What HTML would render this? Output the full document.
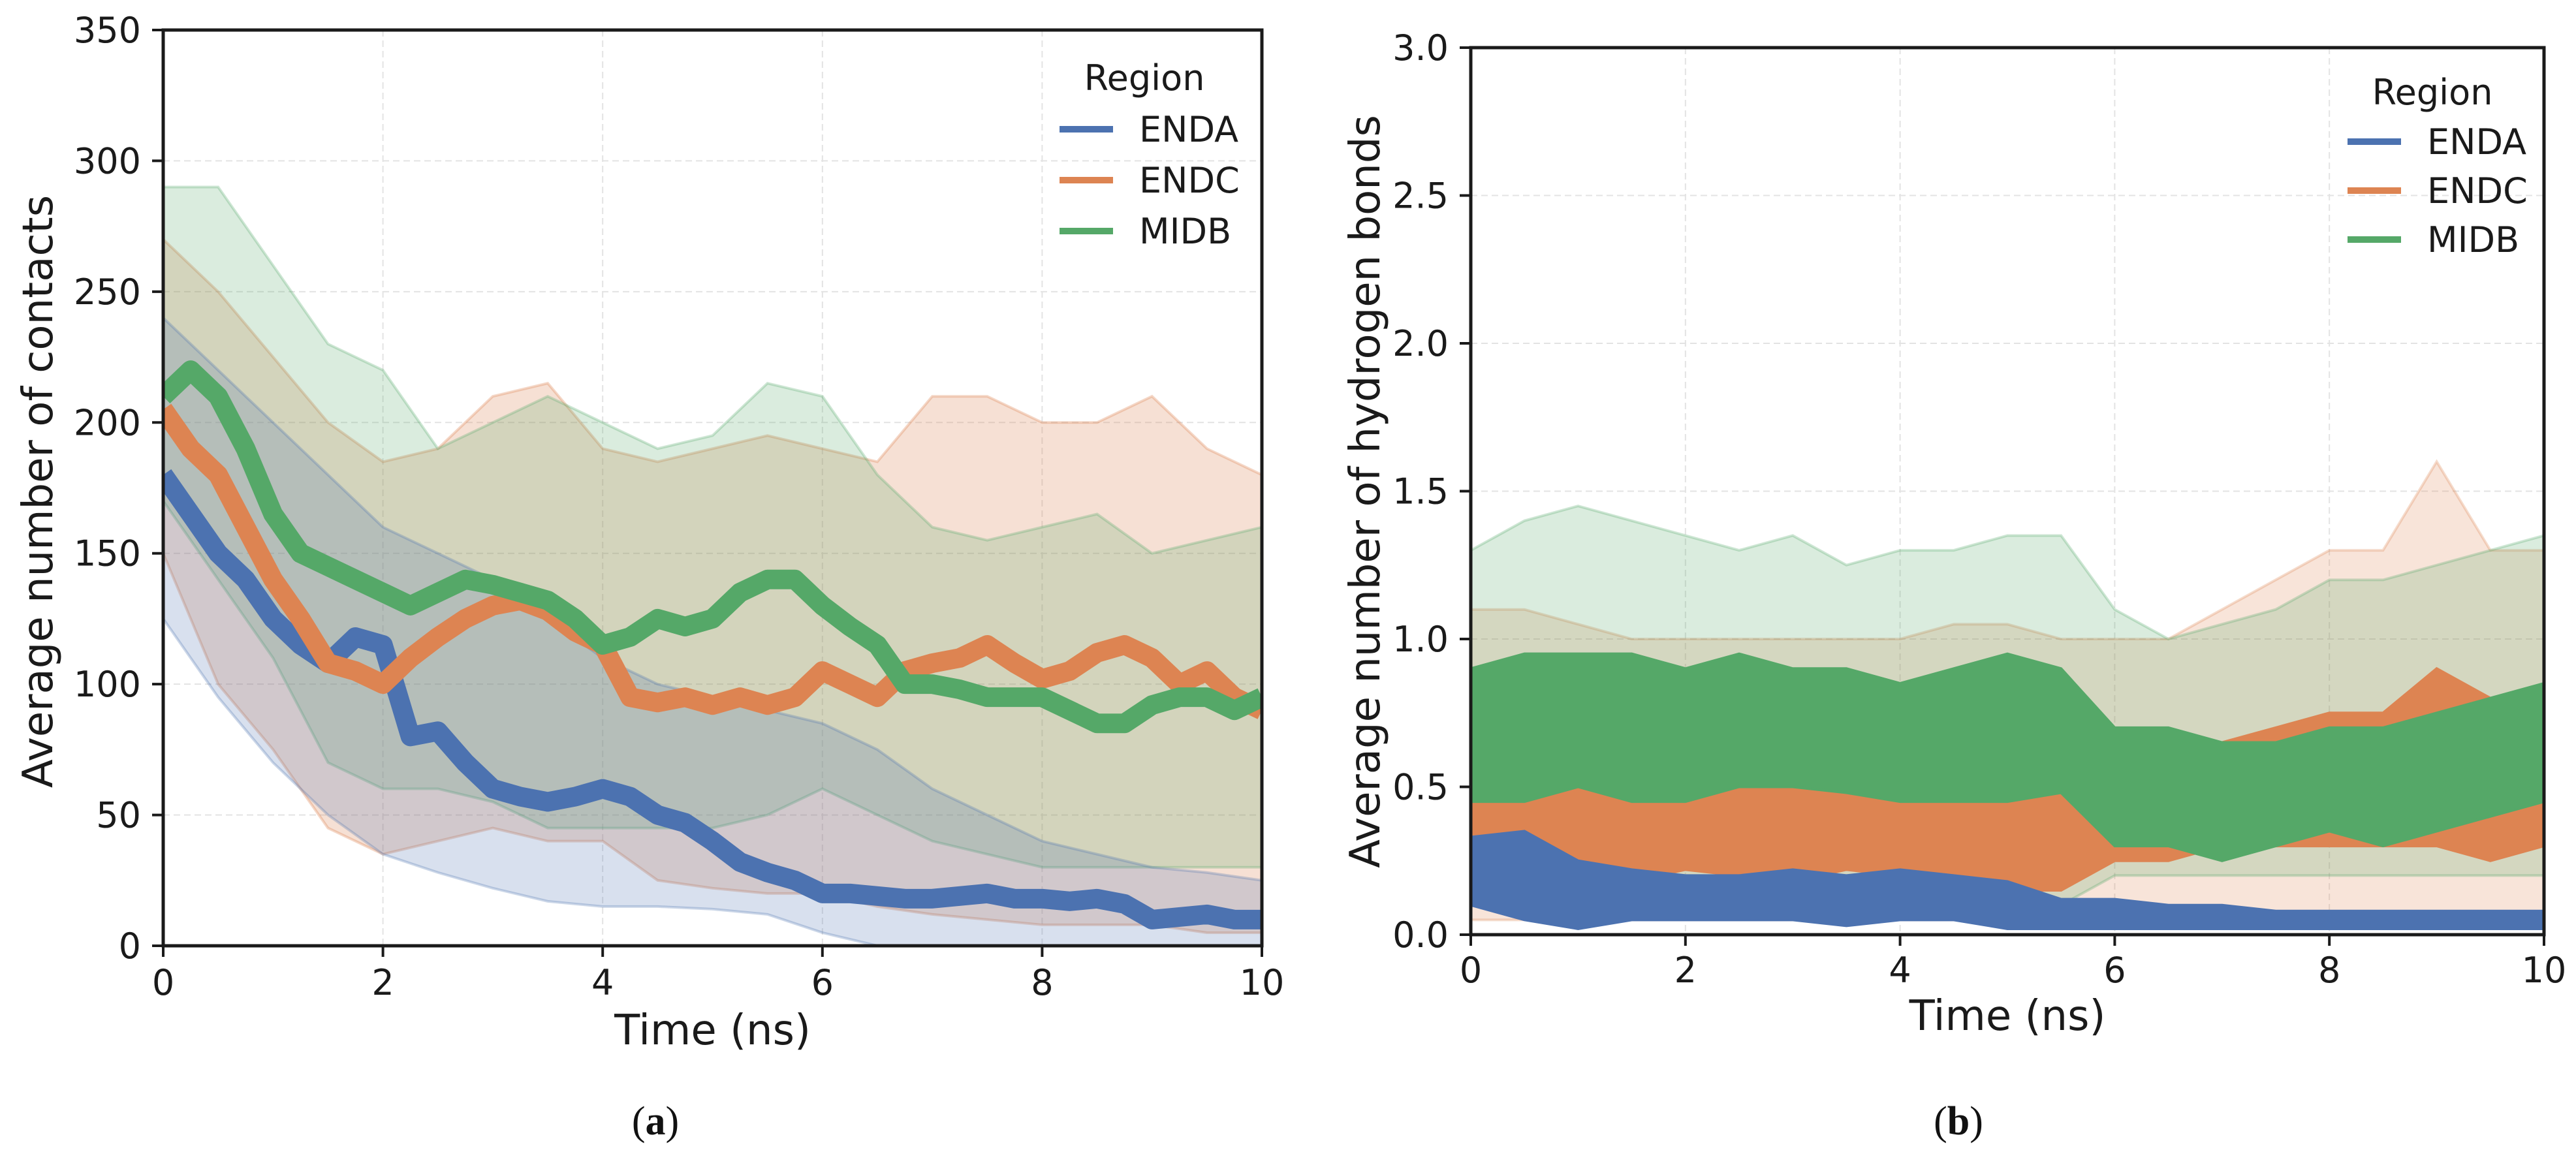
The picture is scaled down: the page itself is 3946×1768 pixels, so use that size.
<!DOCTYPE html>
<html><head><meta charset="utf-8"><style>
html,body{margin:0;padding:0;background:#fff;width:3946px;height:1768px;overflow:hidden}
svg{display:block;font-family:"DejaVu Sans","Liberation Sans",sans-serif}
.cap{font-family:"Liberation Serif",serif}
</style></head><body>
<svg id="fig" width="3946" height="1768" viewBox="0 0 3946 1768" xmlns="http://www.w3.org/2000/svg"></svg>
<script>
// ---------- Panel (a) data ----------
const aTimes = [0,0.25,0.5,0.75,1,1.25,1.5,1.75,2,2.25,2.5,2.75,3,3.25,3.5,3.75,4,4.25,4.5,4.75,5,5.25,5.5,5.75,6,6.25,6.5,6.75,7,7.25,7.5,7.75,8,8.25,8.5,8.75,9,9.25,9.5,9.75,10];
const aEndaMean = [180,165,150,140,125,115,108,118,115,80,82,70,60,57,55,57,60,57,50,47,40,32,28,25,20,20,19,18,18,19,20,18,18,17,18,16,10,11,12,10,10];
const aEndcMean = [205,190,180,160,140,125,108,105,100,110,118,125,130,132,128,120,115,95,93,95,92,95,92,95,105,100,95,105,108,110,115,108,102,105,112,115,110,100,105,95,90];
const aMidbMean = [210,220,210,190,165,150,145,140,135,130,135,140,138,135,132,125,115,118,125,122,125,135,140,140,130,122,115,100,100,98,95,95,95,90,85,85,92,95,95,90,95];
const aBandTimes = [0,0.5,1,1.5,2,2.5,3,3.5,4,4.5,5,5.5,6,6.5,7,7.5,8,8.5,9,9.5,10];
const aEndaLo = [125,95,70,50,35,28,22,17,15,15,14,12,5,0,0,0,0,0,0,0,0];
const aEndaHi = [240,220,200,180,160,150,140,125,110,100,95,90,85,75,60,50,40,35,30,28,25];
const aEndcLo = [150,100,75,45,35,40,45,40,40,25,22,20,20,15,12,10,8,8,8,5,5];
const aEndcHi = [270,250,225,200,185,190,210,215,190,185,190,195,190,185,210,210,200,200,210,190,180];
const aMidbLo = [170,140,110,70,60,60,55,45,45,45,45,50,60,50,40,35,30,30,30,30,30];
const aMidbHi = [290,290,260,230,220,190,200,210,200,190,195,215,210,180,160,155,160,165,150,155,160];
const aYTicks = [0,50,100,150,200,250,300,350];
const xTicks = [0,2,4,6,8,10];
// ---------- Panel (b) data ----------
const bTimes = [0,0.5,1,1.5,2,2.5,3,3.5,4,4.5,5,5.5,6,6.5,7,7.5,8,8.5,9,9.5,10];
const bEndaLo = [0.1,0.05,0.02,0.05,0.05,0.05,0.05,0.03,0.05,0.05,0.02,0.02,0.02,0.02,0.02,0.02,0.02,0.02,0.02,0.02,0.02];
const bEndaHi = [0.33,0.35,0.25,0.22,0.2,0.2,0.22,0.2,0.22,0.2,0.18,0.12,0.12,0.1,0.1,0.08,0.08,0.08,0.08,0.08,0.08];
const bEndcLo = [0.28,0.2,0.2,0.18,0.22,0.2,0.18,0.22,0.2,0.2,0.15,0.15,0.25,0.25,0.3,0.3,0.3,0.3,0.3,0.25,0.3];
const bEndcHi = [0.52,0.55,0.5,0.5,0.55,0.52,0.55,0.5,0.52,0.5,0.5,0.55,0.5,0.55,0.65,0.7,0.75,0.75,0.9,0.8,0.75];
const bMidbLo = [0.45,0.45,0.5,0.45,0.45,0.5,0.5,0.48,0.45,0.45,0.45,0.48,0.3,0.3,0.25,0.3,0.35,0.3,0.35,0.4,0.45];
const bMidbHi = [0.9,0.95,0.95,0.95,0.9,0.95,0.9,0.9,0.85,0.9,0.95,0.9,0.7,0.7,0.65,0.65,0.7,0.7,0.75,0.8,0.85];
const bMidbBandHi = [1.3,1.4,1.45,1.4,1.35,1.3,1.35,1.25,1.3,1.3,1.35,1.35,1.1,1.0,1.05,1.1,1.2,1.2,1.25,1.3,1.35];
const bMidbBandLo = [0.1,0.1,0.1,0.1,0.1,0.1,0.1,0.1,0.1,0.1,0.1,0.1,0.2,0.2,0.2,0.2,0.2,0.2,0.2,0.2,0.2];
const bEndcBandHi = [1.1,1.1,1.05,1.0,1.0,1.0,1.0,1.0,1.0,1.05,1.05,1.0,1.0,1.0,1.1,1.2,1.3,1.3,1.6,1.3,1.3];
const bEndcBandLo = [0.05,0.05,0.05,0.05,0.05,0.05,0.05,0.05,0.05,0.05,0.05,0.05,0.05,0.05,0.05,0.05,0.05,0.05,0.05,0.05,0.05];
const bYTicks = [0,0.5,1,1.5,2,2.5,3];
const bYLabels = ["0.0","0.5","1.0","1.5","2.0","2.5","3.0"];
const regions = ["ENDA","ENDC","MIDB"];
const COLORS = {ENDA:"#4c72b0",ENDC:"#dd8452",MIDB:"#55a868"};

const NS="http://www.w3.org/2000/svg";
const svg=document.getElementById('fig');
function mk(tag,attrs,parent){const e=document.createElementNS(NS,tag);for(const k in attrs)e.setAttribute(k,attrs[k]);(parent||svg).appendChild(e);return e;}

function panel(P){
  const g=mk('g',{});
  
  
  const sx=v=>P.x0+(v-0)/(10-0)*(P.x1-P.x0);
  const sy=v=>P.y1-(v-P.ymin)/(P.ymax-P.ymin)*(P.y1-P.y0);
  xTicks.forEach(t=>{const l=mk('line',{x1:sx(t),x2:sx(t),y1:P.y0,y2:P.y1,stroke:'#e3e3e3','stroke-width':2,'stroke-dasharray':'10 6'},g);
    
    });
  P.yt.forEach(t=>{const l=mk('line',{x1:P.x0,x2:P.x1,y1:sy(t),y2:sy(t),stroke:'#e3e3e3','stroke-width':2,'stroke-dasharray':'10 6'},g);
    
    });
  const clipId='clip'+P.id;
  const cp=mk('clipPath',{id:clipId},g);mk('rect',{x:P.x0,y:P.y0,width:P.x1-P.x0,height:P.y1-P.y0},cp);
  const plot=mk('g',{'clip-path':`url(#${clipId})`},g);
  function area(ts,lo,hi,color,op,name){
    let d='M'+ts.map((t,i)=>sx(t)+','+sy(hi[i])).join('L');
    for(let i=ts.length-1;i>=0;i--)d+='L'+sx(ts[i])+','+sy(lo[i]);
    const p=mk('path',{d:d+'Z',fill:color,'fill-opacity':op,stroke:color,'stroke-opacity':Math.min(1,op*1.3),'stroke-width':4},plot);
    
    
  }
  function line(ts,vs,color,w,name){
    const p=mk('path',{d:'M'+ts.map((t,i)=>sx(t)+','+sy(vs[i])).join('L'),fill:'none',stroke:color,'stroke-width':w,'stroke-linejoin':'round'},plot);
    
    
  }
  P.draw(area,line);
  const fr=mk('rect',{x:P.x0,y:P.y0,width:P.x1-P.x0,height:P.y1-P.y0,fill:'none',stroke:'#1a1a1a','stroke-width':5},g);
  
  
  xTicks.forEach(t=>{mk('line',{x1:sx(t),x2:sx(t),y1:P.y1,y2:P.y1+17,stroke:'#1a1a1a','stroke-width':4},g);
    const tx=mk('text',{x:sx(t),y:P.xty,'font-size':54,'text-anchor':'middle',fill:'#1a1a1a'},g);tx.textContent=t;
    
    });
  P.yt.forEach((t,i)=>{mk('line',{x1:P.x0-17,x2:P.x0,y1:sy(t),y2:sy(t),stroke:'#1a1a1a','stroke-width':4},g);
    const tx=mk('text',{x:P.x0-34,y:sy(t)+19,'font-size':54,'text-anchor':'end',fill:'#1a1a1a'},g);tx.textContent=P.yl[i];
    
    });
  const xl=mk('text',{x:(P.x0+P.x1)/2,y:P.xly,'font-size':64,'text-anchor':'middle',fill:'#1a1a1a'},g);xl.textContent='Time (ns)';
  
  
  const yl=mk('text',{x:0,y:0,'font-size':64,'text-anchor':'middle',fill:'#1a1a1a',transform:`translate(${P.ylx},753) rotate(-90)`},g);yl.textContent=P.ytitle;
  
  
  const lg=mk('g',{},g);
  
  
  const rt=mk('text',{x:P.legX+130,y:P.legY,'font-size':54,'text-anchor':'middle',fill:'#1a1a1a'},lg);rt.textContent='Region';
  
  
  regions.forEach((r,i)=>{const y=P.legY+P.legGap*(i+1)-18;
    const e=mk('g',{},lg);
    
    
    mk('line',{x1:P.legX,x2:P.legX+82,y1:y,y2:y,stroke:COLORS[r],'stroke-width':10},e);
    const t=mk('text',{x:P.legX+122,y:y+19,'font-size':54,fill:'#1a1a1a'},e);t.textContent=r;});
}

panel({id:'a',name:'contacts-chart',x0:250,x1:1933,y0:46,y1:1449,ymin:0,ymax:350,yt:aYTicks,yl:aYTicks.map(String),
  xty:1524,xly:1600,ylx:80,ytitle:'Average number of contacts',legX:1623,legY:138,legGap:78,
  draw:(area,line)=>{
    area(aBandTimes,aEndcLo,aEndcHi,COLORS.ENDC,0.25,'endc-band');
    area(aBandTimes,aMidbLo,aMidbHi,COLORS.MIDB,0.22,'midb-band');
    area(aBandTimes,aEndaLo,aEndaHi,COLORS.ENDA,0.22,'enda-band');
    line(aTimes,aEndaMean,COLORS.ENDA,30,'enda-mean-line');
    line(aTimes,aEndcMean,COLORS.ENDC,30,'endc-mean-line');
    line(aTimes,aMidbMean,COLORS.MIDB,30,'midb-mean-line');
  }});

panel({id:'b',name:'hbonds-chart',x0:2253,x1:3897,y0:73,y1:1432,ymin:0,ymax:3,yt:bYTicks,yl:bYLabels,
  xty:1505,xly:1578,ylx:2113,ytitle:'Average number of hydrogen bonds',legX:3596,legY:160,legGap:75,
  draw:(area,line)=>{
    area(bTimes,bEndcBandLo,bEndcBandHi,COLORS.ENDC,0.22,'endc-band');
    area(bTimes,bMidbBandLo,bMidbBandHi,COLORS.MIDB,0.22,'midb-band');
    area(bTimes,bEndcLo,bEndcHi,COLORS.ENDC,1,'endc-core');
    area(bTimes,bMidbLo,bMidbHi,COLORS.MIDB,1,'midb-core');
    area(bTimes,bEndaLo,bEndaHi,COLORS.ENDA,1,'enda-core');
  }});

const ca=mk('text',{x:1004,y:1738,'font-size':62,'text-anchor':'middle',fill:'#111',class:'cap'});
ca.innerHTML='(<tspan font-weight="bold">a</tspan>)';


const cb=mk('text',{x:3000,y:1738,'font-size':62,'text-anchor':'middle',fill:'#111',class:'cap'});
cb.innerHTML='(<tspan font-weight="bold">b</tspan>)';


</script>
</body></html>
